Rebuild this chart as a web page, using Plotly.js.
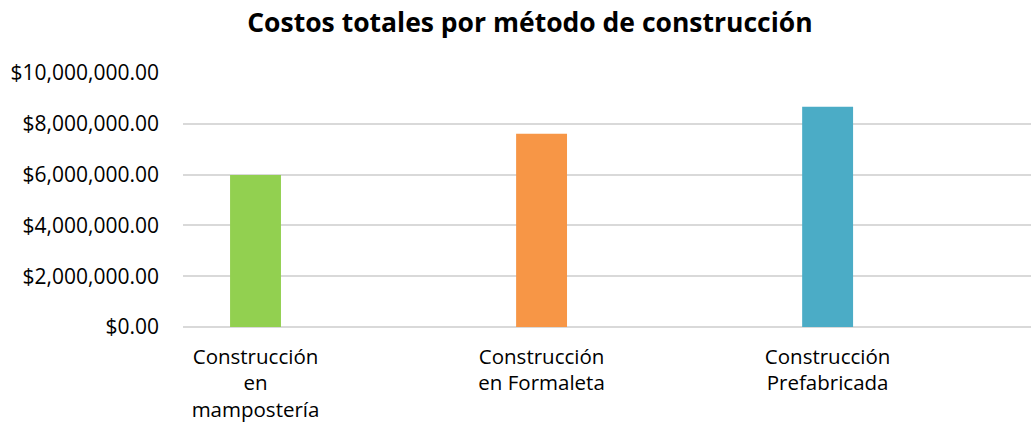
<!DOCTYPE html>
<html>
<head>
<meta charset="utf-8">
<script src="https://cdn.plot.ly/plotly-3.0.1.min.js"></script>
<style>html,body{margin:0;padding:0;background:#fff;}#chart{width:1031px;height:432px;}</style>
</head>
<body>
<div id="chart"></div>
<script>
var categories = ["Construcción<br>en<br>mampostería", "Construcción<br>en Formaleta", "Construcción<br>Prefabricada"];
var costs = [5980000, 7610000, 8670000];
var barColors = ["#92D050", "#F79646", "#4BACC6"];
var chartTitle = "Costos totales por método de construcción";

var font = "'Open Sans', sans-serif";
var trace = {
  type: "bar",
  x: categories,
  y: costs,
  width: 0.178,
  marker: {color: barColors},
  hoverinfo: "x+y"
};
var layout = {
  width: 1031, height: 432,
  margin: {l: 183, r: 0, t: 73, b: 105},
  paper_bgcolor: "#fff", plot_bgcolor: "#fff",
  showlegend: false,
  title: {text: "<b>" + chartTitle + "</b>", x: 0.514, xref: "container", y: 0.948, yref: "container", yanchor: "middle",
          font: {family: font, size: 26.5, color: "#000"}},
  xaxis: {type: "category", range: [-0.2535, 2.711], showgrid: false, showline: false, ticks: "",
          tickfont: {family: font, size: 20.5, color: "#000"}, ticklabelstandoff: 15},
  yaxis: {range: [0, 10000000], dtick: 2000000, tickformat: "$,.2f", showgrid: true, gridcolor: "#D9D9D9", gridwidth: 2,
          zeroline: true, zerolinecolor: "#D9D9D9", zerolinewidth: 2, showline: false, ticks: "",
          tickfont: {family: font, size: 21, color: "#000"}, ticklabelstandoff: 23}
};
Plotly.newPlot("chart", [trace], layout, {displayModeBar: false, staticPlot: true});
</script>
</body>
</html>
